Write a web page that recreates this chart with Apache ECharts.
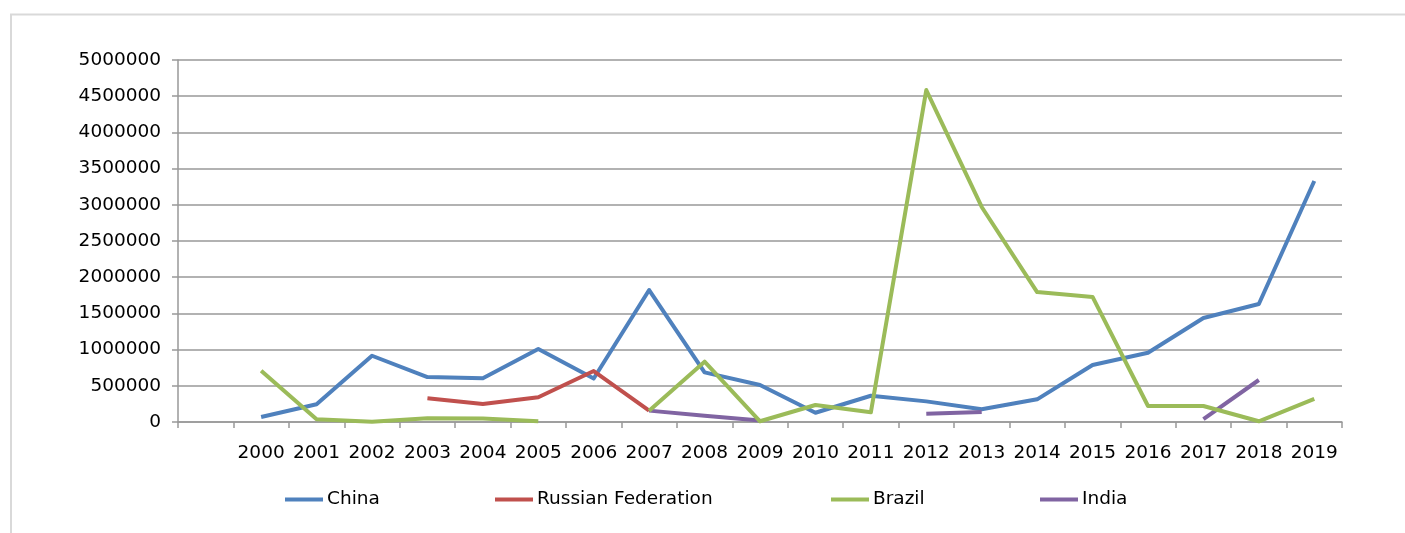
<!DOCTYPE html>
<html>
<head>
<meta charset="utf-8">
<style>
html,body{margin:0;padding:0;background:#fff;}
#chart{width:1405px;height:533px;}
</style>
<script src="https://cdn.jsdelivr.net/npm/echarts@6/dist/echarts.min.js"></script>
</head>
<body>
<div id="chart"></div>
<script>
const categories = ["", "2000","2001","2002","2003","2004","2005","2006","2007","2008","2009","2010","2011","2012","2013","2014","2015","2016","2017","2018","2019"];
const china = [null, 70000, 245000, 915000, 621000, 603000, 1008000, 600000, 1823000, 686000, 511000, 128000, 363000, 285000, 175000, 313000, 787000, 957000, 1436000, 1630000, 3329000];
const russia = [null, null, null, null, 327000, 249000, 341000, 704000, 157000, null, null, null, null, null, null, null, null, null, null, null, null];
const brazil = [null, 709000, 37000, 5000, 51000, 50000, 10000, null, 157000, 833000, 10000, 235000, 134000, 4585000, 2970000, 1795000, 1727000, 221000, 221000, 10000, 318000];
const india = [null, null, null, null, null, null, null, null, 157000, 87000, 20000, null, null, 115000, 138000, null, null, null, 41000, 580000, null];
const yTicks = [0, 500000, 1000000, 1500000, 2000000, 2500000, 3000000, 3500000, 4000000, 4500000, 5000000];

const names = ["China", "Russian Federation", "Brazil", "India"];
const colors = ["#4F81BD", "#C0504D", "#9BBB59", "#8064A2"];
const dataSets = [china, russia, brazil, india];
const legendLeft = [285, 495, 831, 1040];

const font = "DejaVu Sans";
const fs = 18.5;
const chart = echarts.init(document.getElementById('chart'));
chart.setOption({
  animation: false,
  backgroundColor: '#fff',
  graphic: [{
    type: 'rect',
    shape: {x: 11, y: 14.5, width: 1500, height: 700},
    style: {fill: 'none', stroke: '#d9d9d9', lineWidth: 2},
    silent: true
  }],
  grid: {left: 178, right: 63, top: 60, bottom: 111, containLabel: false},
  legend: names.map((n, i) => ({
    data: [n],
    left: legendLeft[i],
    top: 490,
    icon: 'rect',
    itemWidth: 38,
    itemHeight: 4,
    itemGap: 0,
    padding: 0,
    textStyle: {fontFamily: font, fontSize: fs, color: '#000', padding: [0, 0, 0, -1]}
  })),
  xAxis: {
    type: 'category',
    data: categories,
    boundaryGap: true,
    axisLine: {lineStyle: {color: '#999', width: 1.5}},
    axisTick: {show: true, length: 6, interval: 0, lineStyle: {color: '#999', width: 1.5}},
    axisLabel: {interval: 0, margin: 22, fontFamily: font, fontSize: fs, color: '#000'},
    splitLine: {show: false}
  },
  yAxis: {
    type: 'value',
    min: 0, max: 5000000, interval: 500000,
    axisLine: {show: true, lineStyle: {color: '#999', width: 1.5}},
    axisTick: {show: true, length: 6, lineStyle: {color: '#999', width: 1.5}},
    axisLabel: {margin: 17, fontFamily: font, fontSize: fs, color: '#000', padding: [2, 0, 0, 0],
      formatter: v => yTicks.includes(v) ? String(v) : ''},
    splitLine: {show: true, lineStyle: {color: '#999', width: 1.5}}
  },
  series: names.map((n, i) => ({
    name: n,
    type: 'line',
    data: dataSets[i],
    showSymbol: false,
    symbol: 'none',
    connectNulls: false,
    itemStyle: {color: colors[i]},
    lineStyle: {color: colors[i], width: 4, join: 'round'},
    z: i === 2 ? 3 : 2
  }))
});
</script>
</body>
</html>
